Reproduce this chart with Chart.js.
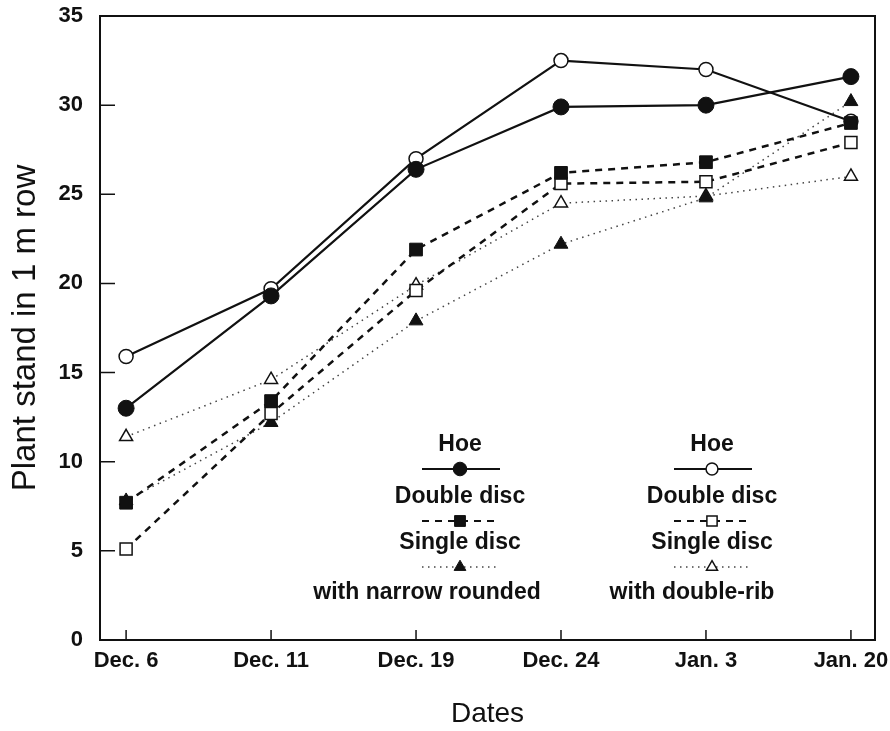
<!DOCTYPE html>
<html>
<head>
<meta charset="utf-8">
<script src="https://cdn.jsdelivr.net/npm/chart.js@4"></script>
<style>
  html, body { margin: 0; padding: 0; background: #fff; }
  #wrap { width: 890px; height: 731px; }
</style>
</head>
<body>
<div id="wrap"><canvas id="plant-stand"></canvas></div>
<script>
'use strict';

/* Section 1: data */

const dates = ['Dec. 6', 'Dec. 11', 'Dec. 19', 'Dec. 24', 'Jan. 3', 'Jan. 20'];

// narrow rounded press wheel (filled markers)
const hoeRounded = [13.0, 19.3, 26.4, 29.9, 30.0, 31.6];
const doubleRounded = [7.7, 13.4, 21.9, 26.2, 26.8, 29.0];
const singleRounded = [7.8, 12.2, 17.9, 22.2, 24.8, 30.2];

// double-rib press wheel (open markers)
const hoeRib = [15.9, 19.7, 27.0, 32.5, 32.0, 29.1];
const doubleRib = [5.1, 12.7, 19.6, 25.6, 25.7, 27.9];
const singleRib = [11.4, 14.6, 19.9, 24.5, 24.9, 26.0];

const openers = ['Hoe', 'Double disc', 'Single disc'];
const wheels = ['with narrow rounded', 'with double-rib'];

const yMin = 0;
const yMax = 35;
const yStep = 5;


/* Section 2: styles */

const ink = '#111';
const fontFamily = '"Liberation Sans", Arial, sans-serif';
const solid = [];
const dashed = [7, 6];
const dotted = [1.5, 4.5];

function series(label, values, style) {
    return Object.assign({
        label: label,
        data: values.map((v, i) => ({x: i, y: v})),
        borderColor: ink,
        pointBorderColor: ink,
        tension: 0,
        fill: false,
        showLine: true
    }, style);
}

const datasets = [
    series('Hoe, narrow rounded', hoeRounded, {
        borderWidth: 2.2, borderDash: solid,
        pointStyle: 'circle', pointRadius: 8, pointBackgroundColor: ink, pointBorderWidth: 1
    }),
    // drawn underneath, the filled square covers it at Jan. 20
    series('Hoe, double-rib', hoeRib, {
        order: 1,
        borderWidth: 2.2, borderDash: solid,
        pointStyle: 'circle', pointRadius: 7, pointBackgroundColor: '#fff', pointBorderWidth: 1.5
    }),
    series('Double disc, narrow rounded', doubleRounded, {
        borderWidth: 2.5, borderDash: dashed,
        pointStyle: 'rect', pointRadius: 9, pointBackgroundColor: ink, pointBorderWidth: 1
    }),
    series('Double disc, double-rib', doubleRib, {
        borderWidth: 2.5, borderDash: dashed,
        pointStyle: 'rect', pointRadius: 8.5, pointBackgroundColor: '#fff', pointBorderWidth: 1.5
    }),
    series('Single disc, narrow rounded', singleRounded, {
        borderWidth: 1.5, borderDash: dotted, borderColor: '#444',
        pointStyle: 'triangle', pointRadius: 8, pointBackgroundColor: ink, pointBorderWidth: 1
    }),
    series('Single disc, double-rib', singleRib, {
        borderWidth: 1.5, borderDash: dotted, borderColor: '#444',
        pointStyle: 'triangle', pointRadius: 7.5, pointBackgroundColor: '#fff', pointBorderWidth: 1.5
    })
];


/* Section 3: plugins */

// frame round the plot and ticks pointing inwards
const framePlugin = {
    id: 'frame',
    afterDraw(chart) {
        const {ctx, chartArea: a, scales} = chart;
        ctx.save();
        ctx.strokeStyle = ink;
        ctx.lineWidth = 2;
        ctx.setLineDash([]);
        ctx.strokeRect(a.left, a.top, a.right - a.left, a.bottom - a.top);
        ctx.lineWidth = 1.5;
        ctx.beginPath();
        for (const t of scales.y.ticks) {
            const py = scales.y.getPixelForValue(t.value);
            ctx.moveTo(a.left, py);
            ctx.lineTo(a.left + 15, py);
        }
        for (const t of scales.x.ticks) {
            const px = scales.x.getPixelForValue(t.value);
            ctx.moveTo(px, a.bottom);
            ctx.lineTo(px, a.bottom - 10);
        }
        ctx.stroke();
        ctx.restore();
    }
};

// two column legend: name above, line sample with marker below
const legendPlugin = {
    id: 'columnLegend',
    afterDatasetsDraw(chart) {
        const ctx = chart.ctx;
        const columns = [460, 712];
        const footX = [427, 692];
        const rows = [445, 497, 543];
        ctx.save();
        ctx.font = `bold 23px ${fontFamily}`;
        ctx.fillStyle = ink;
        ctx.textAlign = 'center';
        ctx.textBaseline = 'middle';
        columns.forEach((cx, c) => {
            openers.forEach((name, r) => {
                const ds = chart.data.datasets[r * 2 + c];
                const y = rows[r];
                ctx.fillText(name, cx, y);
                const ly = y + 24;
                ctx.strokeStyle = ds.borderColor;
                ctx.lineWidth = Math.min(ds.borderWidth, 2);
                ctx.setLineDash(ds.borderDash);
                ctx.beginPath();
                ctx.moveTo(cx - 38, ly);
                ctx.lineTo(cx + 40, ly);
                ctx.stroke();
                ctx.setLineDash([]);
                ctx.fillStyle = ds.pointBackgroundColor;
                ctx.strokeStyle = ink;
                ctx.lineWidth = ds.pointBorderWidth;
                Chart.helpers.drawPoint(ctx, {
                    pointStyle: ds.pointStyle,
                    radius: ds.pointRadius * 0.85,
                    rotation: 0,
                    borderWidth: ds.pointBorderWidth
                }, cx, ly);
                ctx.fillStyle = ink;
            });
            ctx.fillText(wheels[c], footX[c], 593);
        });
        ctx.restore();
    }
};


/* Section 4: chart */

const yTicks = [];
for (let v = yMin; v <= yMax; v += yStep) yTicks.push(v);

const plantCtx = document.querySelector('#plant-stand');

// tick padding also widens the plot margins, so the label gap comes from tickLength
const plantChart = new Chart(plantCtx, {
    type: 'line',
    data: { datasets: datasets },
    options: {
        responsive: true,
        maintainAspectRatio: false,
        animation: false,
        layout: { padding: { left: 0, right: 15, top: 16, bottom: 0 } },
        scales: {
            x: {
                type: 'linear',
                min: -0.18,
                max: 5.166,
                afterBuildTicks: scale => {
                    scale.ticks = dates.map((d, i) => ({ value: i }));
                },
                afterFit: scale => { scale.height = 91; },
                grid: { display: false, drawTicks: true, tickLength: 8 },
                border: { display: false },
                ticks: {
                    color: ink,
                    padding: 0,
                    autoSkip: false,
                    maxRotation: 0,
                    font: { family: fontFamily, size: 22, weight: 'bold' },
                    callback: value => dates[value]
                },
                title: {
                    display: true,
                    text: 'Dates',
                    color: ink,
                    padding: { top: 0, bottom: 0 },
                    font: { family: fontFamily, size: 28 }
                }
            },
            y: {
                min: yMin,
                max: yMax,
                afterBuildTicks: scale => {
                    scale.ticks = yTicks.map(v => ({ value: v }));
                },
                afterFit: scale => { scale.width = 100; },
                grid: { display: false, drawTicks: true, tickLength: 17 },
                border: { display: false },
                ticks: {
                    color: ink,
                    padding: 0,
                    font: { family: fontFamily, size: 22, weight: 'bold' }
                },
                title: {
                    display: true,
                    text: 'Plant stand in 1 m row',
                    color: ink,
                    padding: { top: 6, bottom: 0 },
                    font: { family: fontFamily, size: 33 }
                }
            }
        },
        plugins: {
            legend: { display: false },
            tooltip: { enabled: false }
        }
    },
    plugins: [framePlugin, legendPlugin]
});
</script>
</body>
</html>
